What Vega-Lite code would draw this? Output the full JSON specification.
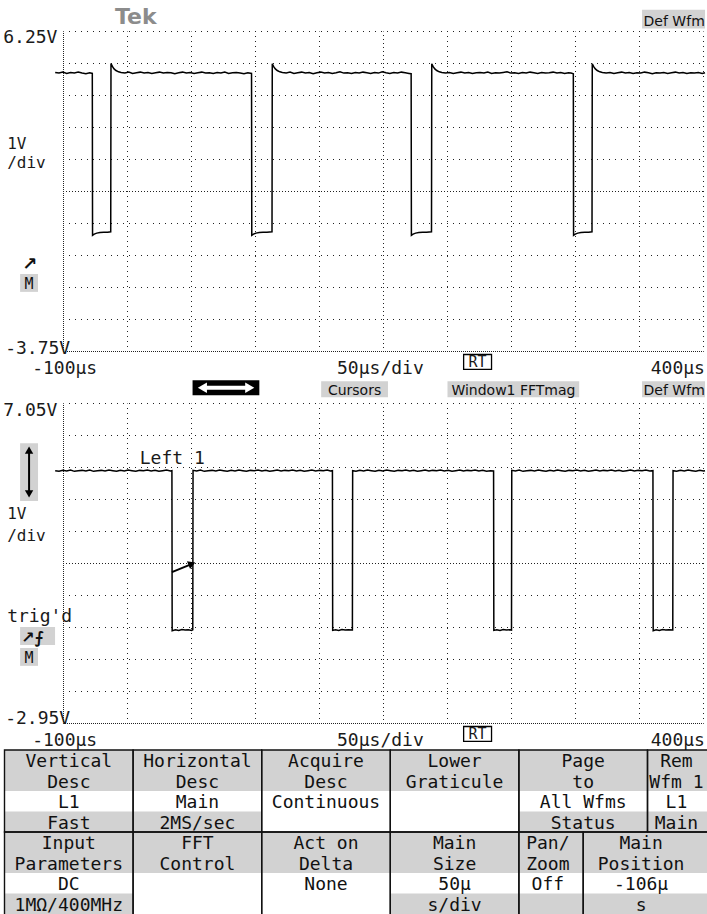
{
"$schema": "https://vega.github.io/schema/vega-lite/v6.json",
"background": "white",
"padding": 0,
"spacing": 0,
"bounds": "flush",
"config": {"view": {"stroke": null}},
"vconcat": [
{
"width": 707, "height": 400,
"encoding": {
 "x": {"field": "t", "type": "quantitative", "scale": {"domain": [-100, 400], "range": [63.5, 703.5], "nice": false, "zero": false}, "axis": null},
 "y": {"field": "v", "type": "quantitative", "scale": {"domain": [-3.75, 6.25], "range": [351.5, 31.5], "nice": false, "zero": false}, "axis": null}
},
"layer": [
 {"data": {"values": [
   {"t0": 352.0, "t1": 401.2, "v0": 6.933, "v1": 6.343},
   {"t0": 101.3, "t1": 153.5, "v0": -4.682, "v1": -5.179},
   {"t0": 200.0, "t1": 302.9, "v0": -4.682, "v1": -5.179},
   {"t0": 352.0, "t1": 401.2, "v0": -4.682, "v1": -5.179},
   {"t0": -133.9, "t1": -119.9, "v0": -1.328, "v1": -1.887}]},
  "mark": {"type": "rect", "color": "#d2d2d2"},
  "encoding": {"x": {"field": "t0", "type": "quantitative"}, "x2": {"field": "t1"}, "y": {"field": "v0", "type": "quantitative"}, "y2": {"field": "v1"}}},
 {"data": {"values": [
   {"t": -50, "v": 6.25, "vb": -3.75}, {"t": 0, "v": 6.25, "vb": -3.75}, {"t": 50, "v": 6.25, "vb": -3.75}, {"t": 100, "v": 6.25, "vb": -3.75},
   {"t": 200, "v": 6.25, "vb": -3.75}, {"t": 250, "v": 6.25, "vb": -3.75}, {"t": 300, "v": 6.25, "vb": -3.75}, {"t": 350, "v": 6.25, "vb": -3.75}, {"t": 400, "v": 6.25, "vb": -3.75}]},
  "mark": {"type": "rule", "color": "#222", "strokeDash": [1, 4], "strokeDashOffset": 0.5, "strokeWidth": 1},
  "encoding": {"y2": {"field": "vb"}}},
 {"data": {"values": [
   {"v": 6.25, "t": -100, "te": 400}, {"v": 5.25, "t": -100, "te": 400}, {"v": 4.25, "t": -100, "te": 400}, {"v": 3.25, "t": -100, "te": 400}, {"v": 2.25, "t": -100, "te": 400},
   {"v": 0.25, "t": -100, "te": 400}, {"v": -0.75, "t": -100, "te": 400}, {"v": -1.75, "t": -100, "te": 400}, {"v": -2.75, "t": -100, "te": 400}]},
  "mark": {"type": "rule", "color": "#222", "strokeDash": [1, 5], "strokeDashOffset": 0.5, "strokeWidth": 1},
  "encoding": {"x2": {"field": "te"}}},
 {"data": {"values": [{"t": 150, "v": 6.25, "vb": -3.75}]},
  "mark": {"type": "rule", "color": "#222", "strokeDash": [1, 3], "strokeDashOffset": 0.5, "strokeWidth": 1},
  "encoding": {"y2": {"field": "vb"}}},
 {"data": {"values": [{"v": 1.25, "t": -100, "te": 400}]},
  "mark": {"type": "rule", "color": "#222", "strokeDash": [1, 2], "strokeDashOffset": 0.5, "strokeWidth": 1},
  "encoding": {"x2": {"field": "te"}}},
 {"data": {"values": [{"t": -100, "v": 6.25, "vb": -3.75}]},
  "mark": {"type": "rule", "color": "#222", "strokeDash": [1, 1], "strokeDashOffset": 0.5, "strokeWidth": 1},
  "encoding": {"y2": {"field": "vb"}}},
 {"data": {"values": [{"v": -3.75, "t": -100, "te": 400}]},
  "mark": {"type": "rule", "color": "#222", "strokeDash": [1, 1], "strokeDashOffset": 0.5, "strokeWidth": 1},
  "encoding": {"x2": {"field": "te"}}},
 {"data": {"values": [
{"t":-106.5,"v":4.97},{"t":-103.5,"v":4.95},{"t":-100.5,"v":4.98},{"t":-97.5,"v":4.94},{"t":-94.5,"v":4.97},{"t":-91.5,"v":4.95},{"t":-88.5,"v":4.98},{"t":-85.5,"v":4.95},{"t":-82.5,"v":4.93},{"t":-79.5,"v":4.96},{"t":-77.5,"v":4.94},
{"t":-77.3,"v":-0.12},{"t":-76,"v":-0.08},{"t":-74,"v":-0.05},{"t":-71.5,"v":-0.03},{"t":-68.5,"v":-0.02},{"t":-65.5,"v":-0.02},{"t":-63.1,"v":-0.01},
{"t":-62.9,"v":5.25},{"t":-61.8,"v":5.16},{"t":-60.5,"v":5.08},{"t":-59,"v":5.03},{"t":-57,"v":4.99},{"t":-55,"v":4.97},{"t":-52,"v":4.95},{"t":-49,"v":4.98},{"t":-46,"v":4.94},{"t":-43,"v":4.96},{"t":-40,"v":4.98},{"t":-37,"v":4.95},{"t":-34,"v":4.97},{"t":-31,"v":4.94},{"t":-28,"v":4.96},{"t":-25,"v":4.98},{"t":-22,"v":4.95},{"t":-19,"v":4.97},{"t":-16,"v":4.96},{"t":-13,"v":4.93},{"t":-10,"v":4.96},{"t":-7,"v":4.98},{"t":-4,"v":4.95},{"t":-1,"v":4.97},{"t":2,"v":4.94},{"t":5,"v":4.96},{"t":8,"v":4.98},{"t":11,"v":4.95},{"t":14,"v":4.96},{"t":17,"v":4.94},{"t":20,"v":4.97},{"t":23,"v":4.95},{"t":26,"v":4.98},{"t":29,"v":4.94},{"t":32,"v":4.96},{"t":35,"v":4.97},{"t":38,"v":4.95},{"t":41,"v":4.93},{"t":44,"v":4.96},{"t":46.9,"v":4.94},
{"t":47.1,"v":-0.12},{"t":48.4,"v":-0.08},{"t":50.4,"v":-0.05},{"t":52.9,"v":-0.03},{"t":55.9,"v":-0.02},{"t":58.9,"v":-0.02},{"t":62.9,"v":-0.01},
{"t":63.1,"v":5.24},{"t":64.2,"v":5.15},{"t":65.5,"v":5.08},{"t":67,"v":5.03},{"t":69,"v":4.99},{"t":71,"v":4.97},{"t":74,"v":4.95},{"t":77,"v":4.98},{"t":80,"v":4.94},{"t":83,"v":4.96},{"t":86,"v":4.98},{"t":89,"v":4.95},{"t":92,"v":4.97},{"t":95,"v":4.93},{"t":98,"v":4.96},{"t":101,"v":4.98},{"t":104,"v":4.95},{"t":107,"v":4.97},{"t":110,"v":4.94},{"t":113,"v":4.96},{"t":116,"v":4.99},{"t":119,"v":4.95},{"t":122,"v":4.96},{"t":125,"v":4.94},{"t":128,"v":4.97},{"t":131,"v":4.95},{"t":134,"v":4.98},{"t":137,"v":4.96},{"t":140,"v":4.94},{"t":143,"v":4.97},{"t":146,"v":4.95},{"t":149,"v":4.99},{"t":152,"v":4.96},{"t":155,"v":4.94},{"t":158,"v":4.97},{"t":161,"v":4.95},{"t":164,"v":4.98},{"t":167,"v":4.96},{"t":170,"v":4.94},{"t":171.6,"v":4.93},
{"t":171.8,"v":-0.12},{"t":173.1,"v":-0.08},{"t":175.1,"v":-0.05},{"t":177.6,"v":-0.03},{"t":180.6,"v":-0.02},{"t":183.6,"v":-0.02},{"t":187.5,"v":-0.01},
{"t":187.7,"v":5.24},{"t":188.8,"v":5.15},{"t":190.1,"v":5.08},{"t":191.6,"v":5.03},{"t":193.6,"v":4.99},{"t":195.6,"v":4.97},{"t":198.5,"v":4.95},{"t":201.5,"v":4.97},{"t":204.5,"v":4.94},{"t":207.5,"v":4.96},{"t":210.5,"v":4.98},{"t":213.5,"v":4.95},{"t":216.5,"v":4.97},{"t":219.5,"v":4.94},{"t":222.5,"v":4.96},{"t":225.5,"v":4.97},{"t":228.5,"v":4.95},{"t":231.5,"v":4.98},{"t":234.5,"v":4.94},{"t":237.5,"v":4.96},{"t":240.5,"v":4.95},{"t":243.5,"v":4.97},{"t":246.5,"v":4.99},{"t":249.5,"v":4.95},{"t":252.5,"v":4.96},{"t":255.5,"v":4.94},{"t":258.5,"v":4.97},{"t":261.5,"v":4.95},{"t":264.5,"v":4.98},{"t":267.5,"v":4.96},{"t":270.5,"v":4.94},{"t":273.5,"v":4.97},{"t":276.5,"v":4.95},{"t":279.5,"v":4.96},{"t":282.5,"v":4.98},{"t":285.5,"v":4.95},{"t":288.5,"v":4.97},{"t":291.5,"v":4.94},{"t":294.5,"v":4.96},{"t":296.5,"v":4.95},{"t":298.3,"v":4.93},
{"t":298.5,"v":-0.12},{"t":299.8,"v":-0.08},{"t":301.8,"v":-0.05},{"t":304.3,"v":-0.03},{"t":307.3,"v":-0.02},{"t":310.3,"v":-0.02},{"t":312.9,"v":-0.01},
{"t":313.1,"v":5.24},{"t":314.2,"v":5.15},{"t":315.5,"v":5.08},{"t":317,"v":5.03},{"t":319,"v":4.99},{"t":321,"v":4.97},{"t":324,"v":4.95},{"t":327,"v":4.97},{"t":330,"v":4.94},{"t":333,"v":4.96},{"t":336,"v":4.98},{"t":339,"v":4.95},{"t":342,"v":4.97},{"t":345,"v":4.94},{"t":348,"v":4.96},{"t":351,"v":4.95},{"t":354,"v":4.98},{"t":357,"v":4.96},{"t":360,"v":4.93},{"t":363,"v":4.96},{"t":366,"v":4.95},{"t":369,"v":4.97},{"t":372,"v":4.94},{"t":375,"v":4.96},{"t":378,"v":4.98},{"t":381,"v":4.95},{"t":384,"v":4.97},{"t":387,"v":4.94},{"t":390,"v":4.96},{"t":393,"v":4.95},{"t":396,"v":4.97},{"t":399,"v":4.94},{"t":401.2,"v":4.96}
 ]},
  "mark": {"type": "line", "color": "#000", "strokeWidth": 1.5, "interpolate": "linear"}},
 {"data": {"values": [
   {"t": -147.1, "v": 5.877, "s": "6.25V"},
   {"t": -145.6, "v": -3.843, "s": "-3.75V"},
   {"t": -124.5, "v": -4.464, "s": "-100µs"},
   {"t": 113.7, "v": -4.464, "s": "50µs/div"}]},
  "mark": {"type": "text", "align": "left", "baseline": "alphabetic", "font": "DejaVu Sans Mono", "fontSize": 18, "color": "#1a1a1a"},
  "encoding": {"text": {"field": "s"}}},
 {"data": {"values": [
   {"t": -144.0, "v": 2.58, "s": "1V"},
   {"t": -144.0, "v": 1.995, "s": "/div"}]},
  "mark": {"type": "text", "align": "left", "baseline": "alphabetic", "font": "DejaVu Sans Mono", "fontSize": 16, "color": "#1a1a1a"},
  "encoding": {"text": {"field": "s"}}},
 {"data": {"values": [{"t": 401.1, "v": -4.464, "s": "400µs"}]},
  "mark": {"type": "text", "align": "right", "baseline": "alphabetic", "font": "DejaVu Sans Mono", "fontSize": 18, "color": "#1a1a1a"},
  "encoding": {"text": {"field": "s"}}},
 {"data": {"values": [{"t0": 212.6, "t1": 234.4, "v0": -3.843, "v1": -4.309}]},
  "mark": {"type": "rect", "fill": null, "fillOpacity": 0, "stroke": "#000", "strokeWidth": 1.3},
  "encoding": {"x": {"field": "t0", "type": "quantitative"}, "x2": {"field": "t1"}, "y": {"field": "v0", "type": "quantitative"}, "y2": {"field": "v1"}}},
 {"data": {"values": [{"t": 223.5, "v": -4.247, "s": "RT"}]},
  "mark": {"type": "text", "align": "center", "baseline": "alphabetic", "font": "DejaVu Sans Mono", "fontSize": 15, "color": "#1a1a1a"},
  "encoding": {"text": {"field": "s"}}},
 {"data": {"values": [{"t": -43.5, "v": 6.5, "s": "Tek"}]},
  "mark": {"type": "text", "align": "center", "baseline": "alphabetic", "font": "DejaVu Sans", "fontWeight": "bold", "fontSize": 22, "color": "#8c8c8c"},
  "encoding": {"text": {"field": "s"}}},
 {"data": {"values": [{"t": 401.0, "v": 6.436, "s": "Def Wfm"}, {"t": 401.0, "v": -5.116, "s": "Def Wfm"}]},
  "mark": {"type": "text", "align": "right", "baseline": "alphabetic", "font": "DejaVu Sans", "fontSize": 14, "color": "#111"},
  "encoding": {"text": {"field": "s"}}},
 {"data": {"values": [{"t": 127.4, "v": -5.116, "s": "Cursors"}, {"t": 251.5, "v": -5.116, "s": "Window1 FFTmag"}]},
  "mark": {"type": "text", "align": "center", "baseline": "alphabetic", "font": "DejaVu Sans", "fontSize": 14, "color": "#111"},
  "encoding": {"text": {"field": "s"}}},
 {"data": {"values": [{"t0": 0.83, "t1": 53.0, "v0": -4.650, "v1": -5.116}]},
  "mark": {"type": "rect", "color": "#000"},
  "encoding": {"x": {"field": "t0", "type": "quantitative"}, "x2": {"field": "t1"}, "y": {"field": "v0", "type": "quantitative"}, "y2": {"field": "v1"}}},
 {"data": {"values": [{"t0": 9, "t1": 45, "v": -4.883}]},
  "mark": {"type": "rule", "color": "#fff", "strokeWidth": 4},
  "encoding": {"x": {"field": "t0", "type": "quantitative"}, "x2": {"field": "t1"}}},
 {"data": {"values": [{"t": 8.5, "v": -4.883}]},
  "mark": {"type": "point", "shape": "triangle-left", "filled": true, "color": "#fff", "size": 110, "opacity": 1}},
 {"data": {"values": [{"t": 45.5, "v": -4.883}]},
  "mark": {"type": "point", "shape": "triangle-right", "filled": true, "color": "#fff", "size": 110, "opacity": 1}},
 {"data": {"values": [{"t": -132.3, "v": -1.203, "s": "↗"}]},
  "mark": {"type": "text", "align": "left", "baseline": "alphabetic", "font": "DejaVu Sans", "fontWeight": "bold", "fontSize": 18, "color": "#111"},
  "encoding": {"text": {"field": "s"}}},
 {"data": {"values": [{"t": -126.9, "v": -1.793, "s": "M"}]},
  "mark": {"type": "text", "align": "center", "baseline": "alphabetic", "font": "DejaVu Sans Mono", "fontSize": 15, "color": "#111"},
  "encoding": {"text": {"field": "s"}}}
]
},
{
"width": 707, "height": 350,
"encoding": {
 "x": {"field": "t", "type": "quantitative", "scale": {"domain": [-100, 400], "range": [63.5, 703.5], "nice": false, "zero": false}, "axis": null},
 "y": {"field": "v", "type": "quantitative", "scale": {"domain": [-2.95, 7.05], "range": [323.5, 3.5], "nice": false, "zero": false}, "axis": null}
},
"layer": [
 {"data": {"values": [
   {"t0": -133.9, "t1": -119.9, "v0": 5.808, "v1": 4.007},
   {"t0": -133.9, "t1": -106.6, "v0": 0.062, "v1": -0.497},
   {"t0": -133.9, "t1": -119.9, "v0": -0.59, "v1": -1.149}]},
  "mark": {"type": "rect", "color": "#d2d2d2"},
  "encoding": {"x": {"field": "t0", "type": "quantitative"}, "x2": {"field": "t1"}, "y": {"field": "v0", "type": "quantitative"}, "y2": {"field": "v1"}}},
 {"data": {"values": [
   {"t": -50, "v": 7.05, "vb": -2.95}, {"t": 0, "v": 7.05, "vb": -2.95}, {"t": 50, "v": 7.05, "vb": -2.95}, {"t": 100, "v": 7.05, "vb": -2.95},
   {"t": 200, "v": 7.05, "vb": -2.95}, {"t": 250, "v": 7.05, "vb": -2.95}, {"t": 300, "v": 7.05, "vb": -2.95}, {"t": 350, "v": 7.05, "vb": -2.95}, {"t": 400, "v": 7.05, "vb": -2.95}]},
  "mark": {"type": "rule", "color": "#222", "strokeDash": [1, 4], "strokeDashOffset": 0.5, "strokeWidth": 1},
  "encoding": {"y2": {"field": "vb"}}},
 {"data": {"values": [
   {"v": 7.05, "t": -100, "te": 400}, {"v": 6.05, "t": -100, "te": 400}, {"v": 5.05, "t": -100, "te": 400}, {"v": 4.05, "t": -100, "te": 400}, {"v": 3.05, "t": -100, "te": 400},
   {"v": 1.05, "t": -100, "te": 400}, {"v": 0.05, "t": -100, "te": 400}, {"v": -0.95, "t": -100, "te": 400}, {"v": -1.95, "t": -100, "te": 400}]},
  "mark": {"type": "rule", "color": "#222", "strokeDash": [1, 5], "strokeDashOffset": 0.5, "strokeWidth": 1},
  "encoding": {"x2": {"field": "te"}}},
 {"data": {"values": [{"t": 150, "v": 7.05, "vb": -2.95}]},
  "mark": {"type": "rule", "color": "#222", "strokeDash": [1, 3], "strokeDashOffset": 0.5, "strokeWidth": 1},
  "encoding": {"y2": {"field": "vb"}}},
 {"data": {"values": [{"v": 2.05, "t": -100, "te": 400}]},
  "mark": {"type": "rule", "color": "#222", "strokeDash": [1, 2], "strokeDashOffset": 0.5, "strokeWidth": 1},
  "encoding": {"x2": {"field": "te"}}},
 {"data": {"values": [{"t": -100, "v": 7.05, "vb": -2.95}]},
  "mark": {"type": "rule", "color": "#222", "strokeDash": [1, 1], "strokeDashOffset": 0.5, "strokeWidth": 1},
  "encoding": {"y2": {"field": "vb"}}},
 {"data": {"values": [{"v": -2.95, "t": -100, "te": 400}]},
  "mark": {"type": "rule", "color": "#222", "strokeDash": [1, 1], "strokeDashOffset": 0.5, "strokeWidth": 1},
  "encoding": {"x2": {"field": "te"}}},
 {"data": {"values": [
{"t":-106.5,"v":4.95},{"t":-103.5,"v":4.93},{"t":-100.5,"v":4.96},{"t":-97.5,"v":4.94},{"t":-94.5,"v":4.97},{"t":-91.5,"v":4.93},{"t":-88.5,"v":4.95},{"t":-85.5,"v":4.96},{"t":-82.5,"v":4.94},{"t":-79.5,"v":4.97},{"t":-76.5,"v":4.93},{"t":-73.5,"v":4.95},{"t":-70.5,"v":4.96},{"t":-67.5,"v":4.94},{"t":-64.5,"v":4.97},{"t":-61.5,"v":4.95},{"t":-58.5,"v":4.93},{"t":-55.5,"v":4.96},{"t":-52.5,"v":4.94},{"t":-49.5,"v":4.97},{"t":-46.5,"v":4.95},{"t":-43.5,"v":4.93},{"t":-40.5,"v":4.96},{"t":-37.5,"v":4.95},{"t":-34.5,"v":4.97},{"t":-31.5,"v":4.94},{"t":-28.5,"v":4.96},{"t":-25.5,"v":4.93},{"t":-22.5,"v":4.95},{"t":-19.5,"v":4.97},{"t":-16.5,"v":4.94},{"t":-15.3,"v":4.95},
{"t":-15.1,"v":-0.05},{"t":-12.5,"v":-0.02},{"t":-10,"v":-0.04},{"t":-7.5,"v":-0.01},{"t":-5,"v":-0.03},{"t":-2.5,"v":-0.02},{"t":0,"v":-0.04},{"t":1.0,"v":-0.02},
{"t":1.2,"v":4.96},{"t":4,"v":4.94},{"t":7,"v":4.97},{"t":10,"v":4.93},{"t":13,"v":4.95},{"t":16,"v":4.96},{"t":19,"v":4.94},{"t":22,"v":4.97},{"t":25,"v":4.95},{"t":28,"v":4.93},{"t":31,"v":4.96},{"t":34,"v":4.94},{"t":37,"v":4.97},{"t":40,"v":4.95},{"t":43,"v":4.93},{"t":46,"v":4.96},{"t":49,"v":4.95},{"t":52,"v":4.97},{"t":55,"v":4.94},{"t":58,"v":4.96},{"t":61,"v":4.93},{"t":64,"v":4.95},{"t":67,"v":4.97},{"t":70,"v":4.94},{"t":73,"v":4.96},{"t":76,"v":4.95},{"t":79,"v":4.97},{"t":82,"v":4.94},{"t":85,"v":4.96},{"t":88,"v":4.93},{"t":91,"v":4.95},{"t":94,"v":4.97},{"t":97,"v":4.94},{"t":100,"v":4.96},{"t":103,"v":4.95},{"t":106,"v":4.97},{"t":108.5,"v":4.94},{"t":110.1,"v":4.95},
{"t":110.3,"v":-0.04},{"t":112.5,"v":-0.02},{"t":115,"v":-0.04},{"t":117.5,"v":-0.01},{"t":120,"v":-0.03},{"t":122.5,"v":-0.02},{"t":125.7,"v":-0.03},
{"t":125.9,"v":4.95},{"t":128.5,"v":4.93},{"t":131.5,"v":4.96},{"t":134.5,"v":4.94},{"t":137.5,"v":4.97},{"t":140.5,"v":4.95},{"t":143.5,"v":4.93},{"t":146.5,"v":4.96},{"t":149.5,"v":4.94},{"t":152.5,"v":4.97},{"t":155.5,"v":4.95},{"t":158.5,"v":4.93},{"t":161.5,"v":4.96},{"t":164.5,"v":4.95},{"t":167.5,"v":4.97},{"t":170.5,"v":4.94},{"t":173.5,"v":4.96},{"t":176.5,"v":4.93},{"t":179.5,"v":4.95},{"t":182.5,"v":4.97},{"t":185.5,"v":4.94},{"t":188.5,"v":4.96},{"t":191.5,"v":4.95},{"t":194.5,"v":4.97},{"t":197.5,"v":4.94},{"t":200.5,"v":4.96},{"t":203.5,"v":4.93},{"t":206.5,"v":4.95},{"t":209.5,"v":4.97},{"t":212.5,"v":4.94},{"t":215.5,"v":4.96},{"t":218.5,"v":4.95},{"t":221.5,"v":4.97},{"t":224.5,"v":4.94},{"t":227.5,"v":4.96},{"t":230.5,"v":4.93},{"t":233.5,"v":4.95},{"t":236.0,"v":4.94},
{"t":236.2,"v":-0.04},{"t":238.5,"v":-0.02},{"t":241,"v":-0.04},{"t":243.5,"v":-0.01},{"t":246,"v":-0.03},{"t":248.5,"v":-0.02},{"t":250.0,"v":-0.03},
{"t":250.2,"v":4.96},{"t":253,"v":4.94},{"t":256,"v":4.97},{"t":259,"v":4.93},{"t":262,"v":4.95},{"t":265,"v":4.96},{"t":268,"v":4.94},{"t":271,"v":4.97},{"t":274,"v":4.95},{"t":277,"v":4.93},{"t":280,"v":4.96},{"t":283,"v":4.94},{"t":286,"v":4.97},{"t":289,"v":4.95},{"t":292,"v":4.93},{"t":295,"v":4.96},{"t":298,"v":4.95},{"t":301,"v":4.97},{"t":304,"v":4.94},{"t":307,"v":4.96},{"t":310,"v":4.93},{"t":313,"v":4.95},{"t":316,"v":4.97},{"t":319,"v":4.94},{"t":322,"v":4.96},{"t":325,"v":4.95},{"t":328,"v":4.97},{"t":331,"v":4.94},{"t":334,"v":4.96},{"t":337,"v":4.93},{"t":340,"v":4.95},{"t":343,"v":4.97},{"t":346,"v":4.94},{"t":349,"v":4.96},{"t":352,"v":4.95},{"t":355,"v":4.97},{"t":358,"v":4.94},{"t":360.5,"v":4.95},
{"t":360.7,"v":-0.05},{"t":363,"v":-0.02},{"t":365.5,"v":-0.04},{"t":368,"v":-0.01},{"t":370.5,"v":-0.03},{"t":373,"v":-0.02},{"t":376.0,"v":-0.03},
{"t":376.2,"v":4.95},{"t":379,"v":4.93},{"t":382,"v":4.96},{"t":385,"v":4.94},{"t":388,"v":4.97},{"t":391,"v":4.95},{"t":394,"v":4.93},{"t":397,"v":4.96},{"t":400,"v":4.94},{"t":401.2,"v":4.95}
 ]},
  "mark": {"type": "line", "color": "#000", "strokeWidth": 1.5, "interpolate": "linear"}},
 {"data": {"values": [{"t0": -15.3, "t1": 0.0, "v0": 1.78, "v1": 2.03}]},
  "mark": {"type": "rule", "color": "#000", "strokeWidth": 2},
  "encoding": {"x": {"field": "t0", "type": "quantitative"}, "x2": {"field": "t1"}, "y": {"field": "v0", "type": "quantitative"}, "y2": {"field": "v1"}}},
 {"data": {"values": [{"t": 0.3, "v": 2.04}]},
  "mark": {"type": "point", "shape": "triangle-right", "filled": true, "color": "#000", "size": 70, "opacity": 1, "angle": -22}},
 {"data": {"values": [{"t0": -126.9, "t1": -126.9, "v0": 5.62, "v1": 4.19}]},
  "mark": {"type": "rule", "color": "#000", "strokeWidth": 2},
  "encoding": {"x": {"field": "t0", "type": "quantitative"}, "x2": {"field": "t1"}, "y": {"field": "v0", "type": "quantitative"}, "y2": {"field": "v1"}}},
 {"data": {"values": [{"t": -126.9, "v": 5.59}]},
  "mark": {"type": "point", "shape": "triangle-up", "filled": true, "color": "#000", "size": 70, "opacity": 1}},
 {"data": {"values": [{"t": -126.9, "v": 4.224}]},
  "mark": {"type": "point", "shape": "triangle-down", "filled": true, "color": "#000", "size": 70, "opacity": 1}},
 {"data": {"values": [
   {"t": -147.1, "v": 6.646, "s": "7.05V"},
   {"t": -144.0, "v": 0.217, "s": "trig'd"},
   {"t": -40.4, "v": 5.156, "s": "Left 1"},
   {"t": -145.6, "v": -2.981, "s": "-2.95V"},
   {"t": -124.5, "v": -3.664, "s": "-100µs"},
   {"t": 113.7, "v": -3.664, "s": "50µs/div"}]},
  "mark": {"type": "text", "align": "left", "baseline": "alphabetic", "font": "DejaVu Sans Mono", "fontSize": 18, "color": "#1a1a1a"},
  "encoding": {"text": {"field": "s"}}},
 {"data": {"values": [
   {"t": -144.0, "v": 3.447, "s": "1V"},
   {"t": -144.0, "v": 2.764, "s": "/div"}]},
  "mark": {"type": "text", "align": "left", "baseline": "alphabetic", "font": "DejaVu Sans Mono", "fontSize": 16, "color": "#1a1a1a"},
  "encoding": {"text": {"field": "s"}}},
 {"data": {"values": [{"t": 401.1, "v": -3.664, "s": "400µs"}]},
  "mark": {"type": "text", "align": "right", "baseline": "alphabetic", "font": "DejaVu Sans Mono", "fontSize": 18, "color": "#1a1a1a"},
  "encoding": {"text": {"field": "s"}}},
 {"data": {"values": [{"t0": 212.6, "t1": 234.4, "v0": -3.043, "v1": -3.509}]},
  "mark": {"type": "rect", "fill": null, "fillOpacity": 0, "stroke": "#000", "strokeWidth": 1.3},
  "encoding": {"x": {"field": "t0", "type": "quantitative"}, "x2": {"field": "t1"}, "y": {"field": "v0", "type": "quantitative"}, "y2": {"field": "v1"}}},
 {"data": {"values": [{"t": 223.5, "v": -3.447, "s": "RT"}]},
  "mark": {"type": "text", "align": "center", "baseline": "alphabetic", "font": "DejaVu Sans Mono", "fontSize": 15, "color": "#1a1a1a"},
  "encoding": {"text": {"field": "s"}}},
 {"data": {"values": [{"t": -133.0, "v": -0.434, "s": "↗⨍"}]},
  "mark": {"type": "text", "align": "left", "baseline": "alphabetic", "font": "DejaVu Sans", "fontWeight": "bold", "fontSize": 16, "color": "#111"},
  "encoding": {"text": {"field": "s"}}},
 {"data": {"values": [{"t": -126.9, "v": -1.056, "s": "M"}]},
  "mark": {"type": "text", "align": "center", "baseline": "alphabetic", "font": "DejaVu Sans Mono", "fontSize": 15, "color": "#111"},
  "encoding": {"text": {"field": "s"}}}
]
},
{
"width": 707, "height": 164,
"encoding": {
 "x": {"field": "c", "type": "quantitative", "scale": {"domain": [0, 11], "range": [4.5, 711.8], "nice": false, "zero": false}, "axis": null},
 "y": {"field": "r", "type": "quantitative", "scale": {"domain": [0, 8], "range": [0, 164], "nice": false, "zero": false}, "axis": null}
},
"layer": [
 {"data": {"values": [
   {"c0": 0, "c1": 11.5, "r0": 0, "r1": 2},
   {"c0": 0, "c1": 4, "r0": 3, "r1": 4},
   {"c0": 8, "c1": 11.5, "r0": 3, "r1": 4},
   {"c0": 0, "c1": 11.5, "r0": 4, "r1": 6},
   {"c0": 0, "c1": 2, "r0": 7, "r1": 8},
   {"c0": 6, "c1": 11.5, "r0": 7, "r1": 8}]},
  "mark": {"type": "rect", "color": "#d2d2d2"},
  "encoding": {"x": {"field": "c0", "type": "quantitative"}, "x2": {"field": "c1"}, "y": {"field": "r0", "type": "quantitative"}, "y2": {"field": "r1"}}},
 {"data": {"values": [
   {"c0": 0, "c1": 2, "r0": 0, "r1": 4}, {"c0": 2, "c1": 4, "r0": 0, "r1": 4}, {"c0": 4, "c1": 6, "r0": 0, "r1": 4},
   {"c0": 6, "c1": 8, "r0": 0, "r1": 4}, {"c0": 8, "c1": 10, "r0": 0, "r1": 4}, {"c0": 10, "c1": 11.5, "r0": 0, "r1": 4},
   {"c0": 0, "c1": 2, "r0": 4, "r1": 8.2}, {"c0": 2, "c1": 4, "r0": 4, "r1": 8.2}, {"c0": 4, "c1": 6, "r0": 4, "r1": 8.2},
   {"c0": 6, "c1": 8, "r0": 4, "r1": 8.2}, {"c0": 8, "c1": 9, "r0": 4, "r1": 8.2}, {"c0": 9, "c1": 11.5, "r0": 4, "r1": 8.2}]},
  "mark": {"type": "rect", "fill": null, "fillOpacity": 0, "stroke": "#111", "strokeWidth": 1.4},
  "encoding": {"x": {"field": "c0", "type": "quantitative"}, "x2": {"field": "c1"}, "y": {"field": "r0", "type": "quantitative"}, "y2": {"field": "r1"}}},
 {"data": {"values": [
   {"c": 1, "r": 0, "s": "Vertical"}, {"c": 1, "r": 1, "s": "Desc"}, {"c": 1, "r": 2, "s": "L1"}, {"c": 1, "r": 3, "s": "Fast"},
   {"c": 3, "r": 0, "s": "Horizontal"}, {"c": 3, "r": 1, "s": "Desc"}, {"c": 3, "r": 2, "s": "Main"}, {"c": 3, "r": 3, "s": "2MS/sec"},
   {"c": 5, "r": 0, "s": "Acquire"}, {"c": 5, "r": 1, "s": "Desc"}, {"c": 5, "r": 2, "s": "Continuous"},
   {"c": 7, "r": 0, "s": "Lower"}, {"c": 7, "r": 1, "s": "Graticule"},
   {"c": 9, "r": 0, "s": "Page"}, {"c": 9, "r": 1, "s": "to"}, {"c": 9, "r": 2, "s": "All Wfms"}, {"c": 9, "r": 3, "s": "Status"},
   {"c": 10.45, "r": 0, "s": "Rem"}, {"c": 10.45, "r": 1, "s": "Wfm 1"}, {"c": 10.45, "r": 2, "s": "L1"}, {"c": 10.45, "r": 3, "s": "Main"},
   {"c": 1, "r": 4, "s": "Input"}, {"c": 1, "r": 5, "s": "Parameters"}, {"c": 1, "r": 6, "s": "DC"}, {"c": 1, "r": 7, "s": "1MΩ/400MHz"},
   {"c": 3, "r": 4, "s": "FFT"}, {"c": 3, "r": 5, "s": "Control"},
   {"c": 5, "r": 4, "s": "Act on"}, {"c": 5, "r": 5, "s": "Delta"}, {"c": 5, "r": 6, "s": "None"},
   {"c": 7, "r": 4, "s": "Main"}, {"c": 7, "r": 5, "s": "Size"}, {"c": 7, "r": 6, "s": "50µ"}, {"c": 7, "r": 7, "s": "s/div"},
   {"c": 8.45, "r": 4, "s": "Pan/"}, {"c": 8.45, "r": 5, "s": "Zoom"}, {"c": 8.45, "r": 6, "s": "Off"},
   {"c": 9.9, "r": 4, "s": "Main"}, {"c": 9.9, "r": 5, "s": "Position"}, {"c": 9.9, "r": 6, "s": "-106µ"}, {"c": 9.9, "r": 7, "s": "s"}]},
  "mark": {"type": "text", "align": "center", "baseline": "alphabetic", "dy": 17, "font": "DejaVu Sans Mono", "fontSize": 18, "color": "#111"},
  "encoding": {"text": {"field": "s"}}}
]
}
]
}
